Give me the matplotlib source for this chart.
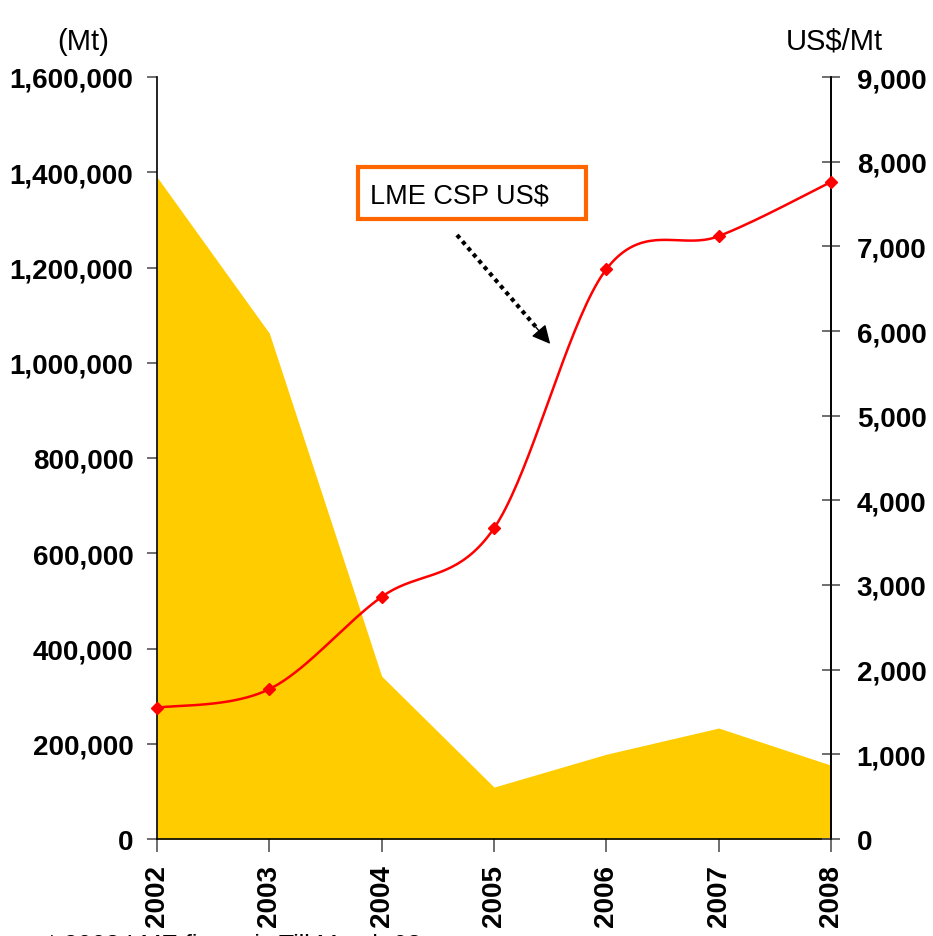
import numpy as np
import matplotlib
matplotlib.use("Agg")
import matplotlib.pyplot as plt
from matplotlib.ticker import FuncFormatter, MultipleLocator

years = ["2002", "2003", "2004", "2005", "2006", "2007", "2008"]
stocks_mt = [1390000, 1062000, 342000, 109000, 178000, 233000, 155000]
lme_csp_usd = [1550, 1770, 2860, 3670, 6730, 7120, 7760]

W, H = 933, 937
fig = plt.figure(figsize=(W / 100, H / 100), dpi=100)
ax = fig.add_axes([157 / W, 1 - 840 / H, (831 - 157) / W, (840 - 78) / H])
ax2 = ax.twinx()

x = np.arange(len(years))
ax.fill_between(x, stocks_mt, 0, color="#FFCC00", linewidth=0, zorder=1)
ax.set_xlim(0, len(years) - 1)
ax.set_ylim(0, 1600000)
ax.yaxis.set_major_locator(MultipleLocator(200000))

# smoothed line (Excel-style Bezier / Catmull-Rom) through the data points
def smooth(xs, ys, n=40):
    xs = np.asarray(xs, float); ys = np.asarray(ys, float)
    P = np.column_stack([xs, ys])
    P = np.vstack([P[0], P, P[-1]])
    out = []
    for i in range(1, len(P) - 2):
        p0, p1, p2, p3 = P[i - 1], P[i], P[i + 1], P[i + 2]
        c1 = p1 + (p2 - p0) / 6
        c2 = p2 - (p3 - p1) / 6
        t = np.linspace(0, 1, n)[:, None]
        seg = (1 - t) ** 3 * p1 + 3 * (1 - t) ** 2 * t * c1 + 3 * (1 - t) * t ** 2 * c2 + t ** 3 * p2
        out.append(seg if i == 1 else seg[1:])
    out = np.vstack(out)
    return out[:, 0], out[:, 1]

sx, sy = smooth(x, lme_csp_usd)
ax2.plot(sx, sy, color="#FF0000", lw=1.8, zorder=3, clip_on=False)
ax2.plot(x, lme_csp_usd, linestyle="none", marker="D", markersize=6,
         color="#FF0000", zorder=4, clip_on=False)
ax2.set_ylim(0, 9000)
ax2.yaxis.set_major_locator(MultipleLocator(1000))

fmt = FuncFormatter(lambda v, p: f"{int(round(v)):,}")
ax.yaxis.set_major_formatter(fmt)
ax2.yaxis.set_major_formatter(fmt)

ax.set_xticks(x)
ax.set_xticklabels(years, rotation=90)

lab_font = dict(family="Liberation Sans", weight="bold", size=20)
for lab in ax.get_yticklabels() + ax2.get_yticklabels() + ax.get_xticklabels():
    lab.set_fontproperties(matplotlib.font_manager.FontProperties(**lab_font))

for a in (ax, ax2):
    a.spines["top"].set_visible(False)
    for s in ("left", "right", "bottom"):
        a.spines[s].set_color("black")
        a.spines[s].set_linewidth(1.2)
    a.set_facecolor("none")
ax.patch.set_visible(False)

ax.tick_params(axis="y", direction="out", length=7, width=1.2, color="#555555", pad=10)
ax.tick_params(axis="x", direction="out", length=9, width=1.2, color="#555555", pad=9)
ax2.tick_params(axis="y", direction="inout", length=13, width=1.2, color="#555555", pad=12)
ax2.spines["left"].set_visible(False)
ax2.spines["bottom"].set_visible(False)

fig.text(83 / W, 1 - 42 / H, "(Mt)", ha="center", va="center", fontsize=21, family="Liberation Sans")
fig.text(834 / W, 1 - 42 / H, "US$/Mt", ha="center", va="center", fontsize=21, family="Liberation Sans")

# annotation box
fig.text(370 / W, 1 - 196 / H, "LME CSP US$", ha="left", va="center", fontsize=19.5,
         family="Liberation Sans")
box = matplotlib.patches.Rectangle((358 / W, 1 - 220 / H), (586 - 358) / W, (220 - 168) / H,
                                   transform=fig.transFigure, fill=False,
                                   edgecolor="#FF6600", linewidth=3)
fig.add_artist(box)

# dotted arrow
fig.add_artist(matplotlib.lines.Line2D([457 / W, 536 / W], [1 - 236 / H, 1 - 328 / H],
                                       transform=fig.transFigure, color="black",
                                       linewidth=3, dashes=(1, 1), dash_capstyle="butt"))
fig.add_artist(matplotlib.patches.FancyArrowPatch((534 / W, 1 - 326 / H), (552 / W, 1 - 347 / H),
                                                  transform=fig.transFigure, arrowstyle="-|>",
                                                  mutation_scale=28, color="black", lw=1))

# footnote (cut off at the bottom in the reference)
fig.text(47 / W, -16 / H, "* 2008 LME figure is Till March 08", ha="left", va="baseline",
         fontsize=18, family="Liberation Sans")

fig.savefig("out.png", dpi=100)
